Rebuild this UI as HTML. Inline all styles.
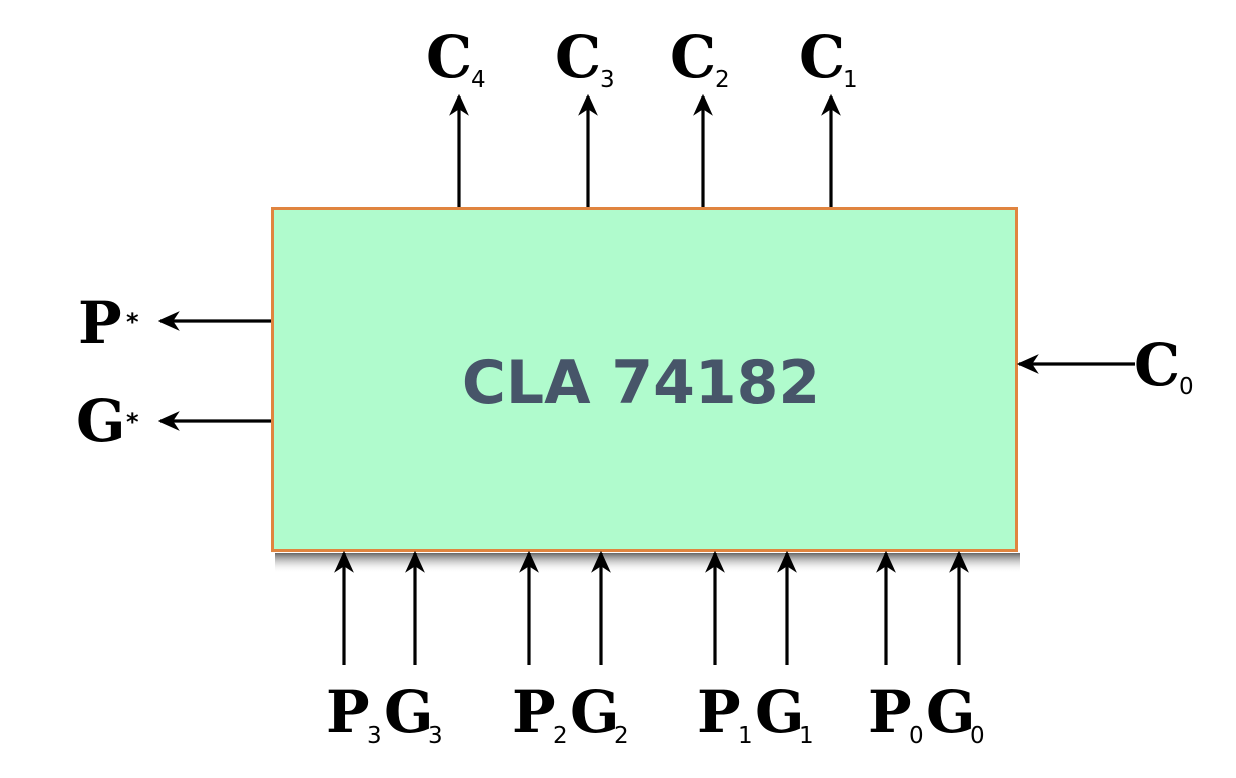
<!DOCTYPE html>
<html><head><meta charset="utf-8"><style>html,body{margin:0;padding:0;background:#fff}svg{display:block}</style></head>
<body>
<svg width="1236" height="778" viewBox="0 0 1236 778" xmlns="http://www.w3.org/2000/svg">
<defs>
<marker id="a" viewBox="0 0 20 20" refX="18" refY="10" markerWidth="22" markerHeight="22" markerUnits="userSpaceOnUse" orient="auto">
<path d="M0,1 L20,10 L0,19 L6,10 Z" fill="#000"/>
</marker>
<linearGradient id="sh" x1="0" y1="0" x2="0" y2="1"><stop offset="0" stop-color="#666"/><stop offset="1" stop-color="#fff" stop-opacity="0"/></linearGradient>
</defs>
<rect x="275" y="553" width="745" height="20" fill="url(#sh)"/>
<rect x="272.5" y="208.5" width="744" height="342" fill="#b0fbcd" stroke="#e0843f" stroke-width="3"/>
<text x="641" y="403" text-anchor="middle" font-family="DejaVu Sans, sans-serif" font-weight="bold" font-size="60" fill="#475569">CLA 74182</text>
<g stroke="#000" stroke-width="3.2" marker-end="url(#a)">
<line x1="459" y1="207" x2="459" y2="96"/>
<line x1="588" y1="207" x2="588" y2="96"/>
<line x1="703" y1="207" x2="703" y2="96"/>
<line x1="831" y1="207" x2="831" y2="96"/>
<line x1="271" y1="321" x2="160" y2="321"/>
<line x1="271" y1="421" x2="160" y2="421"/>
<line x1="1135" y1="364" x2="1019" y2="364"/>
<line x1="344" y1="665" x2="344" y2="553"/>
<line x1="415" y1="665" x2="415" y2="553"/>
<line x1="529" y1="665" x2="529" y2="553"/>
<line x1="601" y1="665" x2="601" y2="553"/>
<line x1="715" y1="665" x2="715" y2="553"/>
<line x1="787" y1="665" x2="787" y2="553"/>
<line x1="886" y1="665" x2="886" y2="553"/>
<line x1="959" y1="665" x2="959" y2="553"/>
</g>
<g font-family="DejaVu Serif, serif" font-weight="bold" font-size="58" fill="#000">
<text x="426" y="77">C</text><text x="555" y="77">C</text><text x="670" y="77">C</text><text x="799" y="77">C</text>
<text x="78" y="343">P</text><text x="76" y="441">G</text>
<text x="1134" y="385">C</text>
<text x="326" y="732">P</text><text x="384" y="732">G</text>
<text x="512" y="732">P</text><text x="570" y="732">G</text>
<text x="697" y="732">P</text><text x="755" y="732">G</text>
<text x="868" y="732">P</text><text x="926" y="732">G</text>
</g>
<g font-family="DejaVu Sans, sans-serif" font-size="23" fill="#000">
<text x="471" y="87">4</text><text x="600" y="87">3</text><text x="715" y="87">2</text><text x="843" y="87">1</text>
<text x="1179" y="394">0</text>
<text x="367" y="743">3</text><text x="428" y="743">3</text>
<text x="553" y="743">2</text><text x="614" y="743">2</text>
<text x="738" y="743">1</text><text x="799" y="743">1</text>
<text x="909" y="743">0</text><text x="970" y="743">0</text>
</g>
<g font-family="DejaVu Sans, sans-serif" font-weight="bold" font-size="24" fill="#000">
<text x="126" y="330">*</text><text x="126" y="430">*</text>
</g>
</svg>
</body></html>
